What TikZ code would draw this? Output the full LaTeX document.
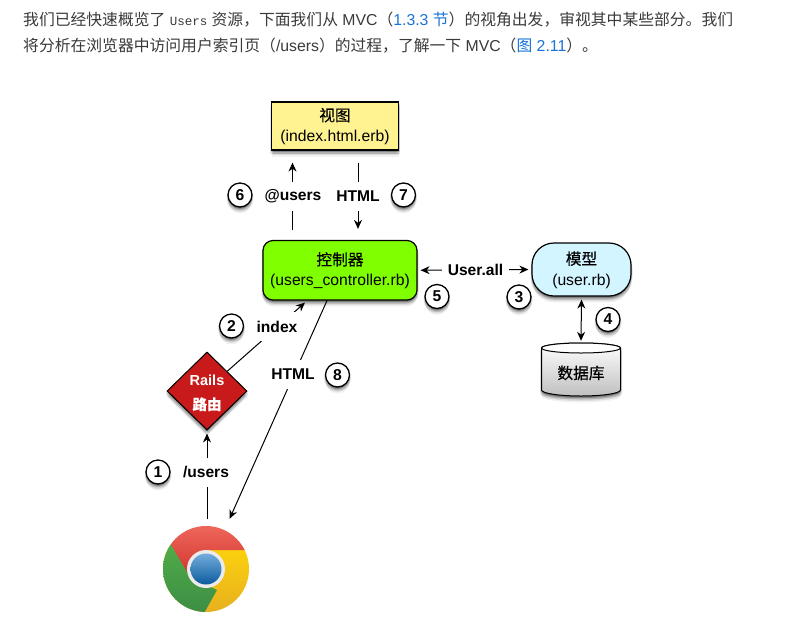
\documentclass[tikz,border=0pt]{standalone}
\usepackage{fontspec}
\setmainfont{Liberation Sans}
\newfontfamily\cjk{Noto Sans CJK SC}
\newfontfamily\cjkb[FakeBold=0.5]{Noto Sans CJK SC}
\newfontfamily\monof{Liberation Mono}
\usetikzlibrary{arrows.meta,shapes.geometric,shadows}
\definecolor{bodytext}{HTML}{3A3A3A}
\definecolor{linkblue}{HTML}{1A73D9}
\definecolor{viewfill}{HTML}{FFF391}
\definecolor{ctrlfill}{HTML}{7FFF00}
\definecolor{modelfill}{HTML}{D2F5FF}
\definecolor{routerfill}{HTML}{C81A1A}
\definecolor{redtop}{HTML}{F06A5E}
\definecolor{redbot}{HTML}{D0302A}
\definecolor{greentop}{HTML}{55B048}
\definecolor{greenbot}{HTML}{3B8C45}
\definecolor{yellowtop}{HTML}{FDD30C}
\definecolor{yellowbot}{HTML}{E6AE20}
\definecolor{bluetop}{HTML}{74ACDC}
\definecolor{bluebot}{HTML}{0B5C9E}
\tikzset{
  softshadow/.style={
    drop shadow={shadow xshift=0pt,shadow yshift=-6.5pt,opacity=.05,fill=black},
    drop shadow={shadow xshift=0pt,shadow yshift=-5pt,opacity=.09,fill=black},
    drop shadow={shadow xshift=-1.5pt,shadow yshift=-3.5pt,opacity=.1,fill=black},
    drop shadow={shadow xshift=1.5pt,shadow yshift=-3.5pt,opacity=.1,fill=black},
    drop shadow={shadow xshift=-1pt,shadow yshift=-2pt,opacity=.13,fill=black},
    drop shadow={shadow xshift=1pt,shadow yshift=-2pt,opacity=.13,fill=black},
    drop shadow={shadow xshift=0pt,shadow yshift=-1pt,opacity=.2,fill=black}},
  boxfont/.style={font=\fontsize{15.7}{20.5}\selectfont,align=center,text=black},
  viewbox/.style={draw=black,line width=1.2pt,fill=viewfill,minimum width=127pt,minimum height=48pt,inner sep=0pt,softshadow,boxfont},
  ctrlbox/.style={draw=black,line width=1.2pt,fill=ctrlfill,rounded corners=10pt,minimum width=154pt,minimum height=59.5pt,inner sep=0pt,softshadow,boxfont},
  modelbox/.style={draw=black,line width=1.2pt,fill=modelfill,rounded corners=22pt,minimum width=99pt,minimum height=53pt,inner sep=0pt,softshadow,boxfont},
  routerbox/.style={diamond,aspect=1,draw=black,line width=1pt,fill=routerfill,minimum width=80pt,minimum height=78pt,inner sep=0pt,softshadow,
    font=\fontsize{14.5}{24}\selectfont\bfseries,align=center,text=white},
  dbtext/.style={minimum width=79pt,minimum height=60pt,inner sep=0pt,boxfont},
  badge/.style={circle,draw=black,line width=1.3pt,fill=white,minimum size=24pt,inner sep=0pt,softshadow,font=\fontsize{15.7}{18}\selectfont\bfseries,text=black},
  conn/.style={draw=black,line width=1pt},
  arr/.style={conn,-{Stealth[length=9pt,width=8pt]}},
  darr/.style={conn,{Stealth[length=9pt,width=8pt]}-{Stealth[length=9pt,width=8pt]}},
  gaplabel/.style={fill=white,inner sep=0pt,minimum height=29pt,font=\fontsize{15.6}{18}\selectfont\bfseries,text=black},
  para/.style={anchor=base west,inner sep=0pt,font=\fontsize{15.8}{20}\selectfont,text=bodytext},
}
\newcommand{\cn}[1]{{\cjk #1}}
\newcommand{\cnb}[1]{{\cjkb #1}}
\newcommand{\lk}[1]{\textcolor{linkblue}{#1}}
\begin{document}
\begin{tikzpicture}[x=1pt,y=-1pt]
\useasboundingbox[fill=white] (0,0) rectangle (797,627);
% paragraph
\node[para] (line1) at (23,25) {\cn{我们已经快速概览了} {\monof\fontsize{12.5}{14}\selectfont Users} \cn{资源，下面我们从} MVC\cn{（}\lk{1.3.3 \cn{节}}\cn{）的视角出发，审视其中某些部分。我们}};
\node[para] (line2) at (23,51) {\cn{将分析在浏览器中访问用户索引页（}/users\cn{）的过程，了解一下} MVC\cn{（}\lk{\cn{图} 2.11}\cn{）。}};
% main nodes
\node[viewbox] (view) at (335,126) {\rule{0pt}{14pt}\cnb{视图}\\(index.html.erb)};
\node[ctrlbox] (ctrl) at (340,270.25) {\rule{0pt}{14pt}\cnb{控制器}\\(users\_controller.rb)};
\node[modelbox] (model) at (581.5,269.5) {\rule{0pt}{14pt}\cnb{模型}\\(user.rb)};
\node[routerbox] (router) at (207,391) {\rule{0pt}{15pt}Rails\\\cnb{路由}};
% database
\path[draw=black,line width=1pt,top color=white,bottom color=black!25,softshadow]
  (541.5,348) -- (541.5,390) arc[start angle=180,end angle=360,x radius=39.5pt,y radius=6pt] -- (620.5,348)
  arc[start angle=0,end angle=180,x radius=39.5pt,y radius=5pt] -- cycle;
\path[draw=black,line width=1pt,fill=white] (581,348) ellipse[x radius=39.5pt,y radius=5pt];
\node[dbtext] (db) at (581,373) {\cnb{数据库}};
% browser
\node[circle,minimum size=86pt,inner sep=0pt] (chrome) at (206,569) {};
\begin{scope}
  \clip (206,569) circle[radius=43pt];
  \shade[top color=yellowtop,bottom color=yellowbot] (160,545) rectangle (252,615);
  \shade[top color=redtop,bottom color=redbot] (160,525) -- (160,522) -- (250,522) -- (250,550) -- (206,550) -- (188,580) -- cycle;
  \shade[top color=greentop,bottom color=greenbot] (171,545) -- (190,577) -- (217,590) -- (203,615) -- (155,615) -- (155,535) -- cycle;
\end{scope}
\fill[black!8] (206,569) circle[radius=19pt];
\shade[top color=bluetop,bottom color=bluebot] (206,569) circle[radius=15.5pt];
% connectors
\draw[arr] ([xshift=-47.5pt,yshift=10.2pt]ctrl.north) -- ([xshift=-42.5pt,yshift=-12pt]view.south);
\draw[arr] ([xshift=23pt,yshift=-12pt]view.south) -- ([xshift=18pt,yshift=11pt]ctrl.north);
\draw[darr] ([xshift=3pt]ctrl.east) -- ([xshift=-3pt]model.west);
\draw[darr] ([yshift=-3pt]model.south) -- ([yshift=2pt]db.north);
\draw[arr] (router.north east) -- ([xshift=-35pt,yshift=-2pt]ctrl.south);
\draw[arr] ([xshift=-13pt]ctrl.south) -- ([xshift=-7pt,yshift=19.6pt]chrome.north east);
\draw[arr] ([xshift=1pt,yshift=7pt]chrome.north) -- ([yshift=-3pt]router.south);
% labels
\node[gaplabel] (lbla) at (293,196.5) {@users};
\node[gaplabel] (lblb) at (358,196.5) {HTML};
\node[gaplabel,minimum width=67pt] (lblc) at (475.5,270) {User.all};
\node[gaplabel] (lbld) at (277,326.5) {index};
\node[gaplabel] (lble) at (293,374.5) {HTML};
\node[gaplabel] (lblf) at (206,472) {/users};
% badges
\node[badge] (b1) at (158,472) {1};
\node[badge] (b2) at (231.5,326) {2};
\node[badge] (b3) at (519,297) {3};
\node[badge] (b4) at (608,319.5) {4};
\node[badge] (b5) at (437,296.5) {5};
\node[badge] (b6) at (240,195) {6};
\node[badge] (b7) at (403.5,195) {7};
\node[badge] (b8) at (337.5,375) {8};
\end{tikzpicture}
\end{document}
